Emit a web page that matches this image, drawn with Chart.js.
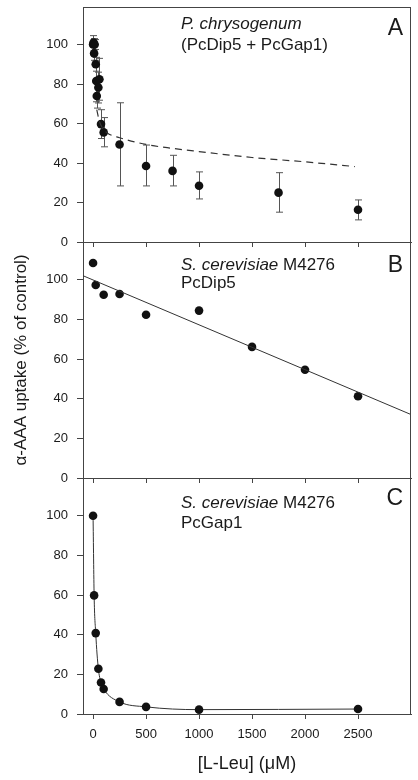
<!DOCTYPE html>
<html>
<head>
<meta charset="utf-8">
<script src="https://cdn.jsdelivr.net/npm/chart.js@4.4.1/dist/chart.umd.min.js"></script>
<style>
  html, body { margin: 0; padding: 0; background: #fff; }
  #wrap { position: relative; width: 418px; height: 780px; }
  #wrap canvas { position: absolute; left: 0; top: 0; }
</style>
</head>
<body>
<div id="wrap">
  <canvas id="panelA" width="418" height="780"></canvas>
  <canvas id="panelB" width="418" height="780"></canvas>
  <canvas id="panelC" width="418" height="780"></canvas>
</div>
<script>
// panel A - P. chrysogenum (PcDip5 + PcGap1), means with error bars
var leuA    = [0, 5, 15, 10, 25, 30, 60, 50, 35, 75, 100, 250, 500, 750, 1000, 1750, 2500];
var uptakeA = [100, 101, 100, 95.5, 90, 81.5, 82.4, 78.2, 73.9, 59.7, 55.5, 49.4, 38.5, 36, 28.5, 25, 16.3];
var errHiA  = [104.5, 103, 102.5, 99, 93.5, 92, 93, 86, 80, 67, 63, 70.5, 49.1, 43.9, 35.5, 35.1, 21.3];
var errLoA  = [95.5, 99, 97.5, 92, 86.5, 71, 71.8, 70.4, 67.8, 52.4, 48.2, 28.4, 28.4, 28.4, 21.8, 15.1, 11.2];
// dashed fitted curve in panel A
var fitLeuA    = [35, 60, 100, 140, 250, 500, 750, 1000, 1500, 2000, 2470];
var fitUptakeA = [67, 61, 57, 55, 52.8, 49.4, 47.4, 45.8, 42.8, 40.6, 38.2];

// panel B - S. cerevisiae M4276 PcDip5
var leuB    = [0, 25, 100, 250, 500, 1000, 1500, 2000, 2500];
var uptakeB = [108.4, 97.3, 92.4, 92.8, 82.3, 84.4, 66.1, 54.6, 41.2];
var fitLeuB    = [-95, 3000];
var fitUptakeB = [102, 32];

// panel C - S. cerevisiae M4276 PcGap1
var leuC    = [0, 10, 25, 50, 75, 100, 250, 500, 1000, 2500];
var uptakeC = [100, 59.8, 40.8, 22.8, 15.9, 12.6, 6.1, 3.6, 2.2, 2.5];

var xTicks = [0, 500, 1000, 1500, 2000, 2500];
var yTicks = [0, 20, 40, 60, 80, 100];

var FONT = '"Liberation Sans", Arial, Helvetica, sans-serif';
var INK = '#1a1a1a';
var AXIS = '#444';

function pairs(xs, ys) {
  return xs.map(function(x, i) { return { x: x, y: ys[i] }; });
}

// box edges (top + right) of each panel
var frame = {
  id: 'frame',
  afterDraw: function(chart) {
    var ctx = chart.ctx, a = chart.chartArea;
    ctx.save();
    ctx.strokeStyle = AXIS;
    ctx.lineWidth = 1;
    ctx.beginPath();
    ctx.moveTo(a.left, Math.round(a.top) + 0.5);
    ctx.lineTo(a.right, Math.round(a.top) + 0.5);
    ctx.moveTo(Math.round(a.right) - 0.5, a.top);
    ctx.lineTo(Math.round(a.right) - 0.5, a.bottom);
    ctx.stroke();
    ctx.restore();
  }
};

var errorBars = {
  id: 'errorBars',
  beforeDatasetsDraw: function(chart, args, opts) {
    if (!opts.x) return;
    var ctx = chart.ctx, xs = chart.scales.x, ys = chart.scales.y;
    ctx.save();
    ctx.strokeStyle = '#555';
    ctx.lineWidth = 1;
    opts.x.forEach(function(v, i) {
      var px = Math.round(xs.getPixelForValue(v)) + 0.5;
      var top = ys.getPixelForValue(opts.hi[i]);
      var bot = ys.getPixelForValue(opts.lo[i]);
      ctx.beginPath();
      ctx.moveTo(px, top); ctx.lineTo(px, bot);
      ctx.moveTo(px - 3.5, top); ctx.lineTo(px + 3.5, top);
      ctx.moveTo(px - 3.5, bot); ctx.lineTo(px + 3.5, bot);
      ctx.stroke();
    });
    ctx.restore();
  }
};

var panelLabel = {
  id: 'panelLabel',
  afterDraw: function(chart, args, opts) {
    var ctx = chart.ctx, a = chart.chartArea;
    ctx.save();
    ctx.fillStyle = INK;
    ctx.textBaseline = 'alphabetic';
    ctx.textAlign = 'left';
    opts.lines.forEach(function(line, i) {
      var x = 181;
      line.forEach(function(part) {
        ctx.font = (part.italic ? 'italic ' : '') + '17px ' + FONT;
        ctx.fillText(part.text, x, a.top + opts.baselines[i]);
        x += ctx.measureText(part.text).width;
      });
    });
    ctx.font = '23px ' + FONT;
    ctx.textAlign = 'right';
    ctx.fillText(opts.letter, a.right - 8, a.top + opts.letterBase);
    ctx.restore();
  }
};

function makeOptions(p) {
  return {
    responsive: false,
    animation: false,
    devicePixelRatio: 1,
    events: [],
    layout: { padding: { left: 0, right: 7, top: p.padTop, bottom: p.padBottom } },
    plugins: {
      legend: { display: false },
      tooltip: { enabled: false },
      errorBars: p.errors || {},
      panelLabel: p.label
    },
    scales: {
      x: {
        type: 'linear', min: -95, max: 3000,
        afterBuildTicks: function(s) {
          s.ticks = xTicks.map(function(v) { return { value: v }; });
        },
        afterFit: function(s) { s.height = p.xHeight; s.paddingLeft = 0; s.paddingRight = 0; },
        ticks: {
          display: p.xLabels, padding: 8, color: INK, font: { family: FONT, size: 13 },
          callback: function(v) { return String(v); }
        },
        grid: { drawOnChartArea: false, drawTicks: true, tickLength: 5, color: AXIS },
        border: { color: AXIS, width: 1 },
        title: {
          display: p.xLabels, text: '[L-Leu] (\u03BCM)', color: INK,
          font: { family: FONT, size: 18 }, padding: { top: 0, bottom: 5 }
        }
      },
      y: {
        type: 'linear', min: 0, max: 119,
        afterBuildTicks: function(s) {
          s.ticks = yTicks.map(function(v) { return { value: v }; });
        },
        afterFit: function(s) { s.width = 83; s.paddingTop = 0; s.paddingBottom = 0; },
        ticks: {
          padding: 9, color: INK, font: { family: FONT, size: 13 },
          callback: function(v) { return String(v); }
        },
        grid: { drawOnChartArea: false, drawTicks: true, tickLength: 6, color: AXIS },
        border: { color: AXIS, width: 1 },
        title: {
          display: !!p.yTitle, text: p.yTitle || '', color: INK,
          font: { family: FONT, size: 17 }, padding: { top: 11, bottom: 0 }
        }
      }
    }
  };
}

var pointStyle = {
  pointRadius: 4.3, pointBackgroundColor: '#111', pointBorderColor: '#111', pointBorderWidth: 0
};

new Chart(document.getElementById('panelA'), {
  type: 'scatter',
  data: {
    datasets: [
      { type: 'line', data: pairs(fitLeuA, fitUptakeA), borderColor: '#333', borderWidth: 1.2,
        borderDash: [7, 5], pointRadius: 0, cubicInterpolationMode: 'monotone', fill: false },
      Object.assign({ data: pairs(leuA, uptakeA), showLine: false }, pointStyle)
    ]
  },
  options: makeOptions({
    padTop: 7, padBottom: 528, xHeight: 10, xLabels: false,
    errors: { x: leuA, hi: errHiA, lo: errLoA },
    label: {
      lines: [[{ text: 'P. chrysogenum', italic: true }], [{ text: '(PcDip5 + PcGap1)' }]],
      baselines: [22, 43], letter: 'A', letterBase: 27.5
    }
  }),
  plugins: [errorBars, frame, panelLabel]
});

new Chart(document.getElementById('panelB'), {
  type: 'scatter',
  data: {
    datasets: [
      { type: 'line', data: pairs(fitLeuB, fitUptakeB), borderColor: '#333', borderWidth: 1,
        pointRadius: 0, fill: false },
      Object.assign({ data: pairs(leuB, uptakeB), showLine: false }, pointStyle)
    ]
  },
  options: makeOptions({
    padTop: 242, padBottom: 292, xHeight: 10, xLabels: false,
    yTitle: '\u03B1-AAA uptake (% of control)',
    label: {
      lines: [[{ text: 'S. cerevisiae', italic: true }, { text: ' M4276' }], [{ text: 'PcDip5' }]],
      baselines: [28, 46], letter: 'B', letterBase: 30
    }
  }),
  plugins: [frame, panelLabel]
});

new Chart(document.getElementById('panelC'), {
  type: 'scatter',
  data: {
    datasets: [
      Object.assign({ data: pairs(leuC, uptakeC), showLine: true, borderColor: '#333', borderWidth: 1,
        cubicInterpolationMode: 'monotone' }, pointStyle)
    ]
  },
  options: makeOptions({
    padTop: 478, padBottom: 0, xHeight: 66, xLabels: true,
    label: {
      lines: [[{ text: 'S. cerevisiae', italic: true }, { text: ' M4276' }], [{ text: 'PcGap1' }]],
      baselines: [30, 50], letter: 'C', letterBase: 27
    }
  }),
  plugins: [frame, panelLabel]
});
</script>
</body>
</html>
